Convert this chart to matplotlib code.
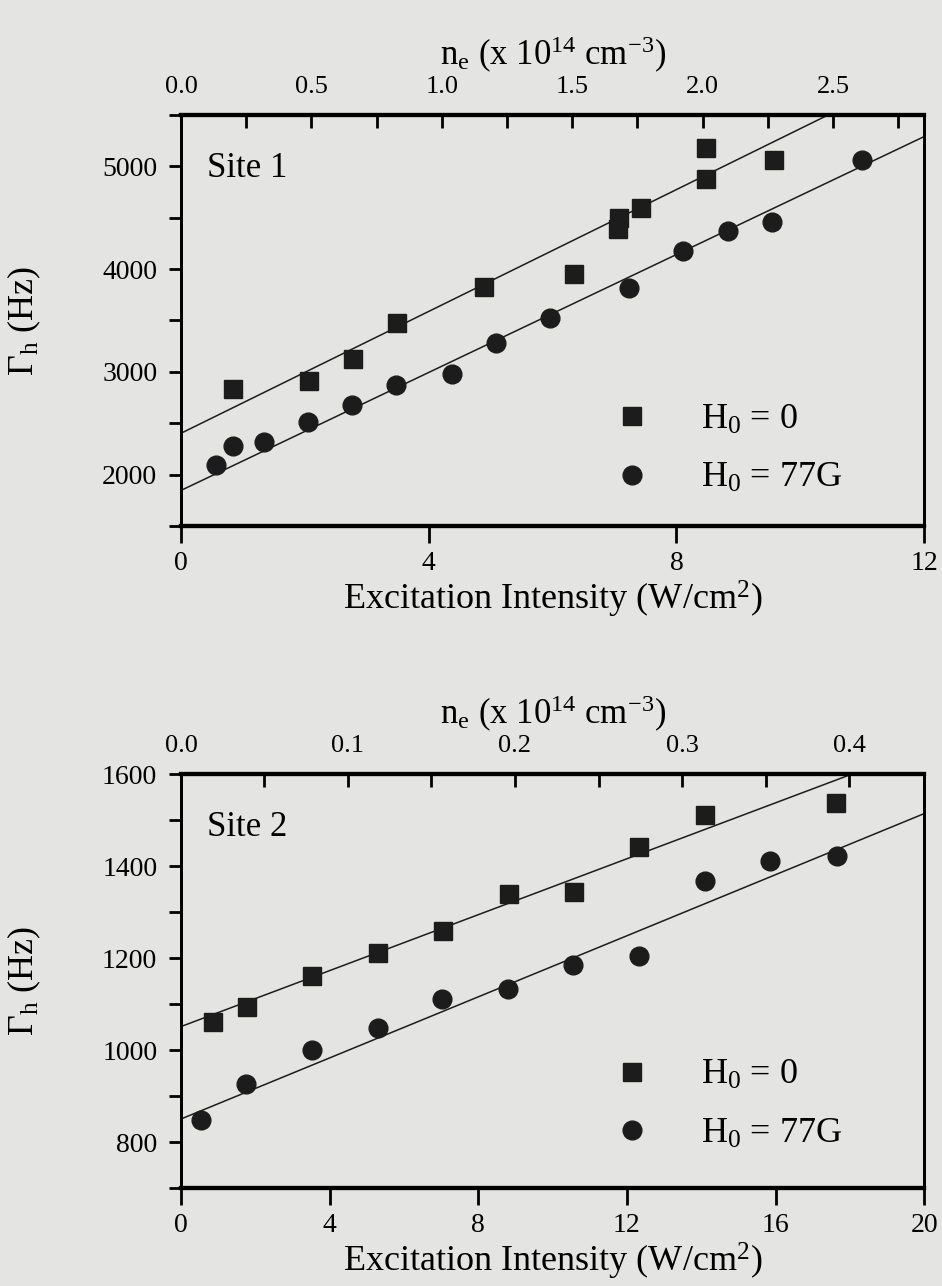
import numpy as np
import matplotlib
matplotlib.use("Agg")
import matplotlib.pyplot as plt
from matplotlib.ticker import MultipleLocator, FormatStrFormatter

plt.rcParams['font.family'] = ['Liberation Serif', 'DejaVu Serif']
plt.rcParams['mathtext.fontset'] = 'custom'
plt.rcParams['mathtext.rm'] = 'Liberation Serif'
plt.rcParams['mathtext.it'] = 'Liberation Serif:italic'

# -------------------------------
# Site 1 data (W/cm^2, Hz)
# -------------------------------
s1_h0_x = [0.84, 2.07, 2.77, 3.49, 4.90, 6.35, 7.05, 7.07, 7.42, 8.47, 8.47, 9.57]
s1_h0_y = [2837, 2915, 3127, 3474, 3830, 3948, 4395, 4494, 4592, 4876, 5180, 5065]
s1_h77_x = [0.56, 0.84, 1.34, 2.05, 2.76, 3.47, 4.37, 5.08, 5.96, 7.23, 8.10, 8.83, 9.55, 11.0]
s1_h77_y = [2098, 2278, 2320, 2510, 2680, 2876, 2980, 3278, 3520, 3817, 4177, 4373, 4461, 5065]
s1_fit_h0 = [2402, 296.5]    # intercept, slope
s1_fit_h77 = [1846, 287.0]

# -------------------------------
# Site 2 data
# -------------------------------
s2_h0_x = [0.87, 1.77, 3.53, 5.29, 7.05, 8.82, 10.58, 12.32, 14.09, 17.62]
s2_h0_y = [1062, 1094, 1162, 1211, 1259, 1339, 1344, 1441, 1512, 1537]
s2_h77_x = [0.54, 1.75, 3.52, 5.29, 7.02, 8.79, 10.56, 12.32, 14.09, 15.86, 17.65]
s2_h77_y = [848, 926, 999, 1047, 1112, 1132, 1185, 1205, 1368, 1412, 1421]
s2_fit_h0 = [1051, 30.4]
s2_fit_h77 = [850, 33.2]

legend_labels = ['H$_0$ = 0', 'H$_0$ = 77G']
bg = '#e4e4e2'
ink = '#1c1c1c'


def draw_panel(ax, site, h0_x, h0_y, h77_x, h77_y, fit_h0, fit_h77,
               xmax, xstep, ylim, ymaj, ne_scale, ne_maj, leg_y):
    ax.set_facecolor(bg)
    xx = np.array([0, xmax])
    ax.plot(xx, fit_h0[0] + fit_h0[1] * xx, color=ink, lw=1.1)
    ax.plot(xx, fit_h77[0] + fit_h77[1] * xx, color=ink, lw=1.1)
    sq, = ax.plot(h0_x, h0_y, 's', color=ink, ms=12.5, ls='none', label=legend_labels[0])
    ci, = ax.plot(h77_x, h77_y, 'o', color=ink, ms=13.5, ls='none', label=legend_labels[1])
    ax.set_xlim(0, xmax)
    ax.set_ylim(*ylim)
    ax.xaxis.set_major_locator(MultipleLocator(xstep))
    ax.yaxis.set_major_locator(MultipleLocator(ymaj))
    ax.yaxis.set_minor_locator(MultipleLocator(ymaj / 2))
    ax.tick_params(axis='x', direction='out', length=12, width=2, labelsize=20, pad=6)
    ax.tick_params(axis='y', which='both', direction='out', length=9, width=2, labelsize=20, pad=8)
    ax.set_xlabel('Excitation Intensity (W/cm$^2$)', fontsize=26, labelpad=2)
    ax.set_ylabel('Γ$_\\mathrm{h}$ (Hz)', fontsize=26)
    ax.yaxis.set_label_coords(-0.186, 0.5)
    for side in ['top', 'bottom']:
        ax.spines[side].set_linewidth(3)
    for side in ['left', 'right']:
        ax.spines[side].set_linewidth(2)
    ax.text(0.035, 0.87, site, transform=ax.transAxes, fontsize=25, va='center')
    ax.legend(handles=[sq, ci], loc='lower right', bbox_to_anchor=(0.89, leg_y),
              borderaxespad=0, borderpad=0, frameon=False, fontsize=26,
              handletextpad=1.4, labelspacing=0.7, handlelength=1.0)

    # top axis: electron density
    top = ax.twiny()
    top.set_xlim(0, xmax * ne_scale)
    top.xaxis.set_major_locator(MultipleLocator(ne_maj))
    top.xaxis.set_minor_locator(MultipleLocator(ne_maj / 2))
    top.xaxis.set_major_formatter(FormatStrFormatter('%.1f'))
    top.tick_params(axis='x', which='both', direction='in', length=9, width=2,
                    labelsize=19, pad=12)
    top.set_xlabel('n$_\\mathrm{e}$ (x 10$^{14}$ cm$^{-3}$)', fontsize=25, labelpad=8)
    for side in ['top', 'bottom']:
        top.spines[side].set_linewidth(3)
    for side in ['left', 'right']:
        top.spines[side].set_linewidth(2)


fig = plt.figure(figsize=(9.42, 12.86), dpi=100)
fig.patch.set_facecolor(bg)
ax1 = fig.add_axes([0.1921, 0.591, 0.789, 0.3196])
ax2 = fig.add_axes([0.1921, 0.0762, 0.789, 0.3219])

draw_panel(ax1, 'Site 1', s1_h0_x, s1_h0_y, s1_h77_x, s1_h77_y, s1_fit_h0, s1_fit_h77,
           12, 4, (1500, 5500), 1000, 0.2375, 0.5, 0.075)
draw_panel(ax2, 'Site 2', s2_h0_x, s2_h0_y, s2_h77_x, s2_h77_y, s2_fit_h0, s2_fit_h77,
           20, 4, (700, 1600), 200, 0.02225, 0.1, 0.09)

fig.savefig('out.png', dpi=100, facecolor=bg)
